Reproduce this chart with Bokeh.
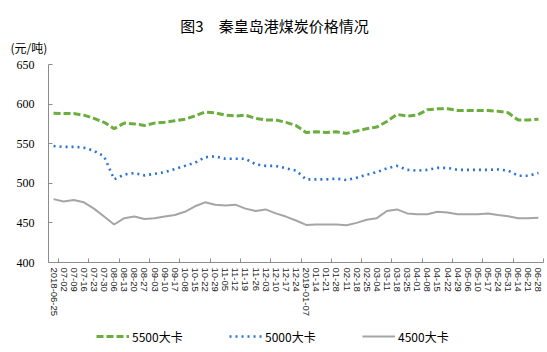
from bokeh.plotting import figure
from bokeh.models import (Range1d, FixedTicker, Label, Legend, LegendItem, LinearAxis)
from bokeh.embed import file_html
from bokeh.resources import INLINE

dates = ["2018-06-25", "07-02", "07-09", "07-16", "07-23", "07-30", "08-06", "08-13",
         "08-20", "08-27", "09-03", "09-10", "09-17", "10-08", "10-15", "10-22", "10-29",
         "11-05", "11-12", "11-19", "11-26", "12-03", "12-10", "12-17", "12-24",
         "2019-01-07", "01-14", "01-21", "01-28", "02-11", "02-18", "02-25", "03-04",
         "03-11", "03-18", "03-25", "04-01", "04-08", "04-15", "04-22", "04-29", "05-06",
         "05-10", "05-17", "05-24", "05-31", "06-14", "06-21", "06-28"]

coal_5500 = [588.5, 588, 588, 586, 582, 577, 569, 576, 575, 573, 576, 577, 579, 581, 585,
             590, 589, 586, 585, 586, 582, 580, 580, 577, 573, 564, 565, 564, 565, 563,
             566, 569, 571, 578, 587, 585, 586, 593, 594, 594, 592, 592, 592, 592, 591,
             589, 580, 580, 581]
coal_5000 = [547, 546, 546, 545, 541, 534, 505, 511, 513, 510, 512, 514, 518, 522, 526,
             533, 534, 531, 531, 531, 524, 522, 522, 519, 516, 505, 505, 505, 506, 504,
             507, 511, 514, 519, 522, 517, 516, 517, 519.5, 519.5, 517, 517, 517, 517,
             517.5, 516, 509.5, 509.5, 513]
coal_4500 = [480, 477, 479, 476, 468, 458, 448, 456, 458, 455, 456, 458, 460, 464, 471,
             476, 473, 472, 473, 468, 465, 467, 462, 458, 453, 447.5, 448, 448, 448, 447,
             450, 454, 456, 465, 467, 462, 461, 461, 464, 463, 461, 461, 461, 462, 460,
             458.5, 456, 456, 456.5]

series_names = ["5500大卡", "5000大卡", "4500大卡"]
y_ticks = [400, 450, 500, 550, 600, 650]
title_text = "图3\u3000秦皇岛港煤炭价格情况"
unit_text = "(元/吨)"

# pixel layout of the plotting area inside the 547x352 canvas
W, H = 547, 352
FL, FR, FT, FB = 48, 543, 64, 262
n = len(dates)
y0, y1 = y_ticks[0], y_ticks[-1]
sx = n / (FR - FL)            # data units per pixel (x)
sy = (y1 - y0) / (FB - FT)    # data units per pixel (y)


def px_x(px):
    return -0.5 + (px - FL) * sx


def px_y(py):
    return y1 - (py - FT) * sy


p = figure(width=W, height=H, output_backend="svg", toolbar_location=None,
           x_range=Range1d(px_x(0), px_x(W)), y_range=Range1d(px_y(H), px_y(0)),
           x_axis_location=None, y_axis_location=None,
           min_border_left=0, min_border_right=0, min_border_top=0, min_border_bottom=0)
p.outline_line_color = None
p.xgrid.visible = False
p.ygrid.visible = False
p.background_fill_color = "white"
p.border_fill_color = "white"

xs = list(range(n))
r1 = p.line(xs, coal_5500, line_color="#6BAE3F", line_width=3, line_dash="7 3")
r2 = p.line(xs, coal_5000, line_color="#2A72D4", line_width=2.6, line_dash="2 4")
r3 = p.line(xs, coal_4500, line_color="#A5A5A5", line_width=2)

axis_col = "#8C8C8C"
# y axis
ya = LinearAxis(fixed_location=-0.5, bounds=(y0, y1))
ya.ticker = FixedTicker(ticks=y_ticks)
ya.axis_line_color = axis_col
ya.major_tick_line_color = axis_col
ya.major_tick_in = 4
ya.major_tick_out = 0
ya.minor_tick_line_color = None
ya.minor_tick_in = 0
ya.minor_tick_out = 0
ya.major_label_text_font = "Liberation Serif"
ya.major_label_text_font_size = "12px"
ya.major_label_text_color = "#000000"
ya.major_label_standoff = 14
p.add_layout(ya, "left")

# x axis
xa = LinearAxis(fixed_location=y0, bounds=(-0.5, n - 0.5))
xa.ticker = FixedTicker(ticks=xs, minor_ticks=[i + 0.5 for i in range(0, n, 3)])
xa.major_label_overrides = {i: d for i, d in enumerate(dates)}
xa.major_label_orientation = "vertical"
xa.axis_line_color = axis_col
xa.major_tick_line_color = None
xa.major_tick_in = 0
xa.major_tick_out = 0
xa.minor_tick_line_color = axis_col
xa.minor_tick_in = 4
xa.minor_tick_out = 0
xa.major_label_text_font = "Liberation Sans"
xa.major_label_text_font_size = "9.5px"
xa.major_label_text_color = "#222222"
xa.major_label_standoff = 5
p.add_layout(xa, "below")

# title & unit
p.add_layout(Label(x=px_x(274), y=px_y(25), text=title_text, text_align="center",
                   text_baseline="middle", text_font="Noto Sans CJK SC",
                   text_font_size="15px", text_font_style="normal", text_color="#000000"))
p.add_layout(Label(x=px_x(10), y=px_y(47), text=unit_text, text_align="left",
                   text_baseline="middle", text_font="Noto Sans CJK SC",
                   text_font_size="12px", text_color="#000000"))

# legends
for r, name, lx in zip([r1, r2, r3], series_names, [96, 229, 362]):
    lg = Legend(items=[LegendItem(label=name, renderers=[r])],
                location=(lx, H - 346), orientation="horizontal",
                padding=0, margin=0, border_line_color=None, background_fill_alpha=0,
                glyph_width=33, glyph_height=20, label_standoff=3, label_height=20,
                label_text_font="Noto Sans CJK SC", label_text_font_size="12px",
                label_text_color="#000000")
    p.add_layout(lg, "center")

open("out.html", "w").write(file_html(p, INLINE))
